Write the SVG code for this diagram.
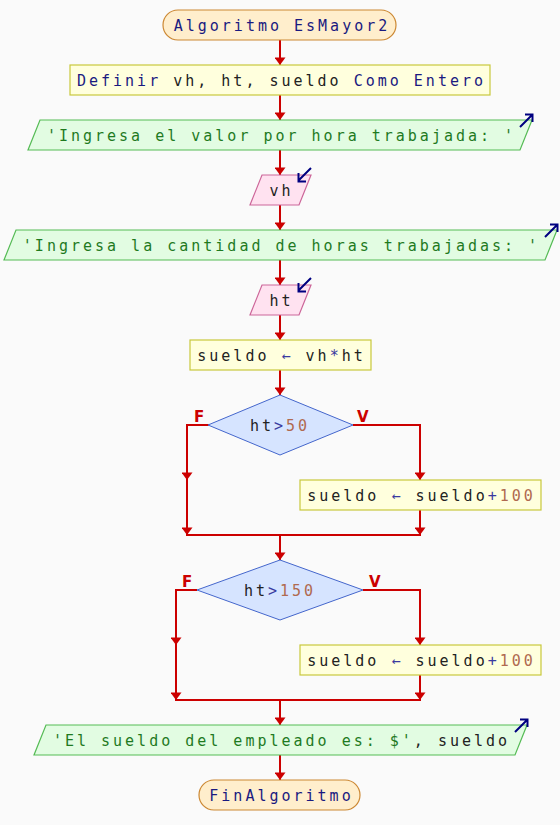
<svg xmlns="http://www.w3.org/2000/svg" width="560" height="825" viewBox="0 0 560 825">
<style>
text{font-family:"DejaVu Sans Mono","Liberation Mono",monospace;font-size:15px;letter-spacing:3px;fill:#222;}
.c{text-anchor:middle;}
.kw{fill:#1a1a80;}
.str{fill:#1f7a1f;}
.num{fill:#b06a50;}
.op{fill:#3a3aa0;}
.lbl{font-family:"DejaVu Sans","Liberation Sans",sans-serif;font-weight:bold;font-size:15px;letter-spacing:0;fill:#cc0000;}
.term{fill:#ffeecc;stroke:#cc8833;stroke-width:1.2;}
.proc{fill:#ffffdd;stroke:#c8c83c;stroke-width:1.2;}
.out{fill:#e2fce2;stroke:#55bb55;stroke-width:1.2;}
.in{fill:#ffe2f0;stroke:#cc6699;stroke-width:1.2;}
.dec{fill:#d6e4ff;stroke:#4466cc;stroke-width:1;}
.conn{fill:none;stroke:#cc0000;stroke-width:2;}
.icon{fill:none;stroke:#000080;stroke-width:2;}
</style>
<defs>
<marker id="ad" markerWidth="11" markerHeight="8" refX="5.5" refY="8" markerUnits="userSpaceOnUse" viewBox="0 0 11 8">
<path d="M0,0.5 L11,0.5 L5.5,8 Z" fill="#cc0000"/>
</marker>
</defs>
<rect x="0" y="0" width="560" height="825" fill="#fafafa"/>

<g id="connectors">
<line class="conn" x1="280" y1="40" x2="280" y2="65" marker-end="url(#ad)"/>
<line class="conn" x1="280" y1="95" x2="280" y2="120" marker-end="url(#ad)"/>
<line class="conn" x1="280" y1="150" x2="280" y2="175" marker-end="url(#ad)"/>
<line class="conn" x1="280" y1="205" x2="280" y2="230" marker-end="url(#ad)"/>
<line class="conn" x1="280" y1="260" x2="280" y2="285" marker-end="url(#ad)"/>
<line class="conn" x1="280" y1="315" x2="280" y2="340" marker-end="url(#ad)"/>
<line class="conn" x1="280" y1="370" x2="280" y2="395" marker-end="url(#ad)"/>
<polyline class="conn" points="209,425 187,425 187,480" marker-end="url(#ad)"/>
<line class="conn" x1="187" y1="480" x2="187" y2="535" marker-end="url(#ad)"/>
<polyline class="conn" points="353,425 420,425 420,480" marker-end="url(#ad)"/>
<line class="conn" x1="420" y1="510" x2="420" y2="535" marker-end="url(#ad)"/>
<line class="conn" x1="186" y1="535" x2="421" y2="535"/>
<line class="conn" x1="280" y1="535" x2="280" y2="560" marker-end="url(#ad)"/>
<polyline class="conn" points="197,590 176,590 176,645" marker-end="url(#ad)"/>
<line class="conn" x1="176" y1="645" x2="176" y2="700" marker-end="url(#ad)"/>
<polyline class="conn" points="363,590 420,590 420,645" marker-end="url(#ad)"/>
<line class="conn" x1="420" y1="675" x2="420" y2="700" marker-end="url(#ad)"/>
<line class="conn" x1="175" y1="700" x2="421" y2="700"/>
<line class="conn" x1="280" y1="700" x2="280" y2="725" marker-end="url(#ad)"/>
<line class="conn" x1="280" y1="755" x2="280" y2="780" marker-end="url(#ad)"/>
</g>

<g id="start">
<rect class="term" x="163" y="10" width="233" height="30" rx="15" ry="15"/>
<text class="c kw" x="282" y="30.5">Algoritmo EsMayor2</text>
</g>

<g id="definir">
<rect class="proc" x="70" y="65" width="420" height="30"/>
<text class="c" x="281.5" y="85.5"><tspan class="kw">Definir</tspan> vh, ht, sueldo <tspan class="kw">Como Entero</tspan></text>
</g>

<g id="out1">
<polygon class="out" points="40,120 532,120 520,150 28,150"/>
<text class="c str" x="281.5" y="140.5">'Ingresa el valor por hora trabajada: '</text>
<path class="icon" d="M520,127 L532,115 M525,114.5 L532.5,114.5 L532.5,122"/>
</g>

<g id="in1">
<polygon class="in" points="262,175 311,175 299,205 250,205"/>
<text class="c" x="281.5" y="195.5">vh</text>
<path class="icon" d="M311,168 L299,180 M298.5,173 L298.5,181.5 L306,181.5"/>
</g>

<g id="out2">
<polygon class="out" points="16,230 557,230 545,260 4,260"/>
<text class="c str" x="281.5" y="250.5">'Ingresa la cantidad de horas trabajadas: '</text>
<path class="icon" d="M545,237 L557,225 M550,224.5 L557.5,224.5 L557.5,232"/>
</g>

<g id="in2">
<polygon class="in" points="262,285 311,285 299,315 250,315"/>
<text class="c" x="281.5" y="305.5">ht</text>
<path class="icon" d="M311,278 L299,290 M298.5,283 L298.5,291.5 L306,291.5"/>
</g>

<g id="assign1">
<rect class="proc" x="190" y="340" width="181" height="30"/>
<text class="c" x="281.5" y="360.5">sueldo <tspan class="op">←</tspan> vh<tspan class="op">*</tspan>ht</text>
</g>

<g id="dec1">
<polygon class="dec" points="280,395 353,425 280,455 208,425"/>
<text class="c" x="280" y="430.5">ht<tspan class="op">&gt;</tspan><tspan class="num">50</tspan></text>
<text class="lbl" x="194" y="422">F</text>
<text class="lbl" x="357" y="422">V</text>
</g>

<g id="assign2">
<rect class="proc" x="300" y="480" width="241" height="30"/>
<text class="c" x="421.5" y="500.5">sueldo <tspan class="op">←</tspan> sueldo<tspan class="op">+</tspan><tspan class="num">100</tspan></text>
</g>

<g id="dec2">
<polygon class="dec" points="280,560 363,590 280,620 197,590"/>
<text class="c" x="280" y="595.5">ht<tspan class="op">&gt;</tspan><tspan class="num">150</tspan></text>
<text class="lbl" x="182" y="587">F</text>
<text class="lbl" x="369" y="587">V</text>
</g>

<g id="assign3">
<rect class="proc" x="300" y="645" width="241" height="30"/>
<text class="c" x="421.5" y="665.5">sueldo <tspan class="op">←</tspan> sueldo<tspan class="op">+</tspan><tspan class="num">100</tspan></text>
</g>

<g id="out3">
<polygon class="out" points="46,725 527,725 515,755 34,755"/>
<text class="c" x="281.5" y="745.5"><tspan class="str">'El sueldo del empleado es: $'</tspan>, sueldo</text>
<path class="icon" d="M515,732 L527,720 M520,719.5 L527.5,719.5 L527.5,727"/>
</g>

<g id="end">
<rect class="term" x="199" y="780" width="161" height="30" rx="15" ry="15"/>
<text class="c kw" x="281.5" y="800.5">FinAlgoritmo</text>
</g>
</svg>
